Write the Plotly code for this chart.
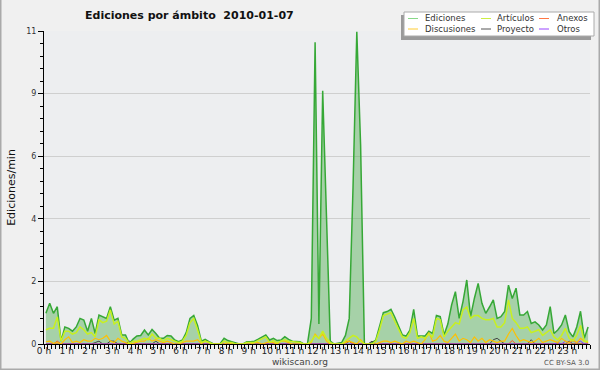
import plotly.graph_objects as go

# ---------------- data (10-minute bins, edits per minute) ----------------
hour_labels = [f"{h} h" for h in range(24)]

ediciones = [
    1.08, 1.43, 1.08, 1.31, 0.10, 0.60,
    0.55, 0.45, 0.60, 0.90, 0.84, 0.45,
    0.90, 0.37, 1.02, 0.96, 0.90, 1.31,
    0.84, 0.90, 0.32, 0.32, 0.02, 0.17,
    0.28, 0.30, 0.49, 0.32, 0.51, 0.37,
    0.20, 0.20, 0.30, 0.28, 0.14, 0.08,
    0.14, 0.40, 0.90, 1.00, 0.65, 0.10,
    0.16, 0.08, 0.02, 0.00, 0.02, 0.20,
    0.12, 0.08, 0.05, 0.00, 0.00, 0.08,
    0.08, 0.10, 0.17, 0.24, 0.32, 0.14,
    0.20, 0.12, 0.14, 0.26, 0.16, 0.10,
    0.08, 0.08, 0.00, 0.02, 0.90, 10.6,
    0.70, 8.90, 4.50, 0.10, 0.00, 0.02,
    0.05, 0.30, 0.90, 5.50, 10.97, 7.00,
    0.00, 0.00, 0.05, 0.14, 0.60, 1.10,
    1.14, 1.22, 0.95, 0.60, 0.32, 0.28,
    0.49, 1.22, 0.28, 0.28, 0.28, 0.45,
    0.37, 1.00, 0.96, 0.32, 0.70, 1.37,
    1.84, 0.90, 1.49, 2.25, 0.96, 1.60,
    2.13, 1.43, 1.08, 1.30, 1.55, 0.90,
    0.96, 1.14, 2.07, 1.60, 1.96, 1.02,
    1.02, 1.14, 0.72, 0.78, 0.67, 0.49,
    0.67, 1.31, 0.37, 0.49, 0.67, 1.02,
    0.43, 0.25, 0.60, 1.15, 0.20, 0.60,
]

articulos = [
    0.50, 0.55, 0.55, 0.95, 0.10, 0.45,
    0.45, 0.35, 0.40, 0.60, 0.50, 0.35,
    0.40, 0.25, 0.85, 0.75, 0.80, 1.20,
    0.70, 0.80, 0.25, 0.20, 0.02, 0.10,
    0.10, 0.15, 0.20, 0.15, 0.35, 0.20,
    0.20, 0.10, 0.20, 0.15, 0.10, 0.05,
    0.10, 0.30, 0.75, 0.90, 0.50, 0.05,
    0.10, 0.05, 0.00, 0.00, 0.00, 0.10,
    0.05, 0.05, 0.00, 0.00, 0.00, 0.05,
    0.05, 0.05, 0.12, 0.18, 0.25, 0.05,
    0.12, 0.05, 0.10, 0.15, 0.10, 0.08,
    0.05, 0.05, 0.00, 0.00, 0.10, 0.30,
    0.20, 0.45, 0.20, 0.05, 0.00, 0.00,
    0.00, 0.10, 0.20, 0.30, 0.25, 0.10,
    0.00, 0.00, 0.00, 0.10, 0.50, 1.00,
    1.05, 1.10, 0.80, 0.55, 0.25, 0.20,
    0.40, 0.90, 0.20, 0.25, 0.20, 0.35,
    0.25, 0.90, 0.85, 0.25, 0.45, 0.60,
    0.75, 0.70, 1.20, 1.30, 0.90, 1.00,
    1.00, 0.90, 0.85, 0.85, 0.90, 0.60,
    0.60, 0.75, 1.55, 0.90, 0.75, 0.55,
    0.55, 0.60, 0.40, 0.45, 0.50, 0.30,
    0.40, 0.50, 0.25, 0.15, 0.30, 0.55,
    0.20, 0.10, 0.30, 0.65, 0.10, 0.10,
]

discusiones = [
    0.08, 0.10, 0.02, 0.05, 0.00, 0.15,
    0.25, 0.05, 0.10, 0.05, 0.15, 0.10,
    0.10, 0.20, 0.15, 0.20, 0.30, 0.10,
    0.05, 0.20, 0.10, 0.05, 0.00, 0.02,
    0.05, 0.10, 0.10, 0.20, 0.10, 0.15,
    0.10, 0.05, 0.10, 0.05, 0.00, 0.00,
    0.05, 0.10, 0.10, 0.10, 0.15, 0.02,
    0.10, 0.05, 0.00, 0.00, 0.00, 0.00,
    0.05, 0.00, 0.00, 0.00, 0.00, 0.00,
    0.00, 0.05, 0.05, 0.00, 0.05, 0.08,
    0.05, 0.00, 0.10, 0.10, 0.05, 0.00,
    0.00, 0.00, 0.00, 0.00, 0.05, 0.35,
    0.20, 0.35, 0.10, 0.00, 0.00, 0.00,
    0.00, 0.05, 0.10, 0.05, 0.00, 0.15,
    0.00, 0.00, 0.00, 0.00, 0.05, 0.10,
    0.10, 0.05, 0.10, 0.05, 0.00, 0.10,
    0.05, 0.10, 0.05, 0.00, 0.15, 0.40,
    0.10, 0.15, 0.30, 0.10, 0.05, 0.20,
    0.35, 0.10, 0.20, 0.15, 0.05, 0.25,
    0.10, 0.20, 0.05, 0.15, 0.10, 0.05,
    0.10, 0.10, 0.35, 0.55, 0.30, 0.10,
    0.15, 0.10, 0.05, 0.10, 0.20, 0.05,
    0.10, 0.15, 0.10, 0.05, 0.20, 0.10,
    0.05, 0.15, 0.05, 0.20, 0.10, 0.05,
]

proyecto = [0.0] * 144
for idx, v in [(13, 0.05), (14, 0.10), (17, 0.10), (18, 0.10), (22, 0.10), (29, 0.10),
               (80, 0.10), (86, 0.10), (118, 0.15), (119, 0.20), (120, 0.10),
               (128, 0.15), (138, 0.10)]:
    proyecto[idx] = v

anexos = [0.0] * 144
for idx, v in [(3, 0.10), (79, 0.08), (80, 0.10), (123, 0.12)]:
    anexos[idx] = v

otros = [0.0] * 144
for idx, v in [(135, 0.05), (137, 0.10), (138, 0.05), (139, 0.10), (140, 0.05), (141, 0.10)]:
    otros[idx] = v

# bin centres in hours
x_hours = [(i + 0.5) / 6 for i in range(144)]

y_tickvals = [0, 2.2, 4.4, 6.6, 8.8, 11]
y_ticktext = ["0", "2", "4", "6", "9", "11"]

# ---------------- layout helpers ----------------
W, H = 600, 370
L, R, T, B = 44, 10, 31, 26
PW, PH = W - L - R, H - T - B


def px(x):
    return (x - L) / PW


def py(y):
    return (H - B - y) / PH


FONT = "DejaVu Sans"

fig = go.Figure()

fig.add_trace(go.Scatter(x=x_hours, y=ediciones, mode="lines", name="Ediciones",
                         line=dict(color="#36a836", width=1.5),
                         fill="tozeroy", fillcolor="rgba(70,170,70,0.42)",
                         showlegend=False))
fig.add_trace(go.Scatter(x=x_hours, y=proyecto, mode="lines", name="Proyecto",
                         line=dict(color="#444444", width=1), showlegend=False))
fig.add_trace(go.Scatter(x=x_hours, y=anexos, mode="lines", name="Anexos",
                         line=dict(color="#ff5522", width=1), showlegend=False))
fig.add_trace(go.Scatter(x=x_hours, y=otros, mode="lines", name="Otros",
                         line=dict(color="#8833ff", width=1), showlegend=False))
fig.add_trace(go.Scatter(x=x_hours, y=discusiones, mode="lines", name="Discusiones",
                         line=dict(color="#ffc000", width=1.2), showlegend=False))
fig.add_trace(go.Scatter(x=x_hours, y=articulos, mode="lines", name="Artículos",
                         line=dict(color="#c8f020", width=1.5), showlegend=False))

# ---------------- manual legend ----------------
shapes = []
annotations = []

# outer frame
shapes.append(dict(type="rect", xref="paper", yref="paper",
                   x0=px(0.5), x1=px(W - 0.5), y0=py(H - 0.5), y1=py(-2),
                   line=dict(color="#aaaaaa", width=2), fillcolor="rgba(0,0,0,0)", layer="above"))

# legend shadow and box
shapes.append(dict(type="rect", xref="paper", yref="paper",
                   x0=px(401), x1=px(591), y0=py(40), y1=py(15),
                   line=dict(width=0), fillcolor="#9a9a9a", layer="above"))
shapes.append(dict(type="rect", xref="paper", yref="paper",
                   x0=px(404), x1=px(594), y0=py(36), y1=py(12),
                   line=dict(color="#aaaaaa", width=1), fillcolor="#ffffff", layer="above"))

legend_items = [
    ("Ediciones", "#88d888", 408, 423, 18.5),
    ("Artículos", "#ccee44", 481, 495, 18.5),
    ("Anexos", "#ff7744", 539, 555, 18.5),
    ("Discusiones", "#ffcc33", 408, 423, 29),
    ("Proyecto", "#555555", 481, 495, 29),
    ("Otros", "#9944ff", 539, 555, 29),
]
for name, col, lx, tx, ly in legend_items:
    shapes.append(dict(type="line", xref="paper", yref="paper",
                       x0=px(lx), x1=px(lx + 10), y0=py(ly), y1=py(ly),
                       line=dict(color=col, width=1), layer="above"))
    annotations.append(dict(text=name, xref="paper", yref="paper", x=px(tx), y=py(ly),
                            xanchor="left", yanchor="middle", showarrow=False,
                            font=dict(family=FONT, size=8.5, color="#333333")))

# footer texts
annotations.append(dict(text="wikiscan.org", xref="paper", yref="paper",
                        x=px(300), y=py(362), xanchor="center", yanchor="middle",
                        showarrow=False, font=dict(family=FONT, size=9, color="#444444")))
annotations.append(dict(text="CC BY-SA 3.0", xref="paper", yref="paper",
                        x=px(591), y=py(363), xanchor="right", yanchor="middle",
                        showarrow=False, font=dict(family=FONT, size=7, color="#555555")))

fig.update_layout(
    width=W, height=H,
    margin=dict(l=L, r=R, t=T, b=B),
    paper_bgcolor="#f0f0f0",
    plot_bgcolor="#edeef0",
    title=dict(text="Ediciones por ámbito \u00a02010-01-07", x=85 / W, xanchor="left",
               xref="container", y=1 - 15 / H, yref="container", yanchor="middle",
               font=dict(family=FONT, size=11, color="#111111", weight="bold")),
    font=dict(family=FONT, size=9, color="#222222"),
    shapes=shapes,
    annotations=annotations,
    showlegend=False,
)

fig.update_xaxes(
    range=[0, 24], automargin=False, tickangle=0,
    tickmode="array", tickvals=list(range(24)), ticktext=hour_labels,
    ticks="outside", ticklen=4, tickcolor="#000000", tickwidth=1,
    ticklabelstandoff=-6,
    minor=dict(dtick=1 / 6, tick0=0, ticks="outside", ticklen=4, tickcolor="#000000", showgrid=False),
    showline=True, linecolor="#000000", linewidth=1,
    showgrid=False, zeroline=False,
    tickfont=dict(family=FONT, size=9, color="#222222"),
)

fig.update_yaxes(
    range=[0, 11], automargin=False,
    tickmode="array", tickvals=y_tickvals, ticktext=y_ticktext,
    ticks="outside", ticklen=5, tickcolor="#000000", tickwidth=1,
    minor=dict(dtick=0.44, tick0=0, ticks="outside", ticklen=3, tickcolor="#000000", showgrid=False),
    showline=True, linecolor="#000000", linewidth=1,
    showgrid=True, gridcolor="#cfcfcf", gridwidth=1, zeroline=False,
    tickfont=dict(family=FONT, size=8, color="#333333"),
    title=dict(text="Ediciones/min", font=dict(family=FONT, size=11, color="#111111"), standoff=8),
)

fig.write_html("out.html")
